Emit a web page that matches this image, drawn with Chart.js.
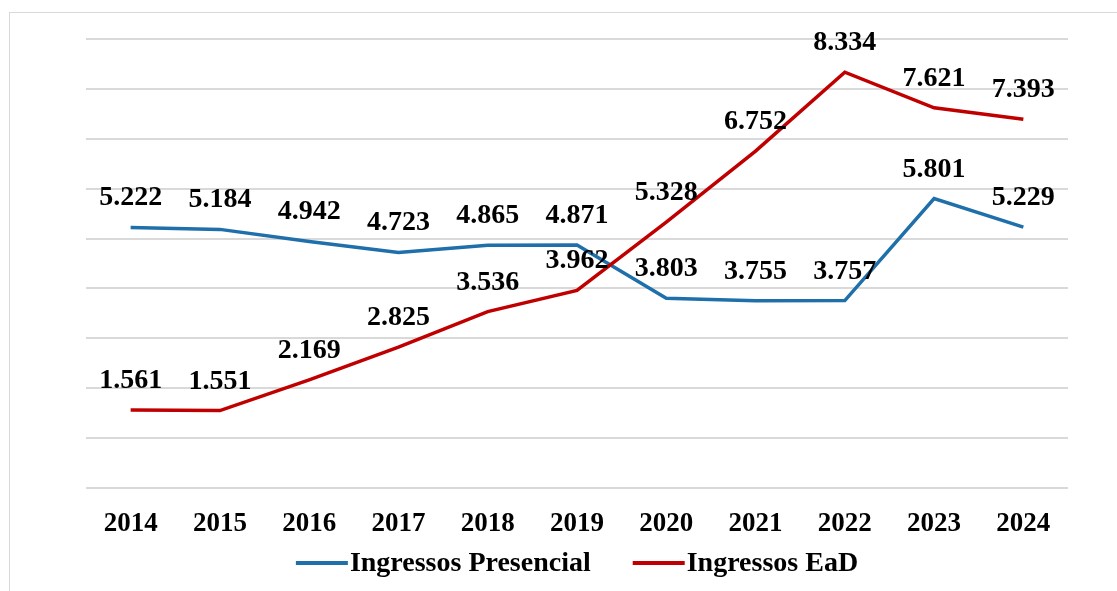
<!DOCTYPE html>
<html>
<head>
<meta charset="utf-8">
<script src="https://cdn.jsdelivr.net/npm/chart.js@4.4.1/dist/chart.umd.min.js"></script>
<style>
  body { margin: 0; background: #fff; }
  #wrap { position: relative; width: 1117px; height: 591px; overflow: hidden; }
  #frame { position: absolute; left: 9px; top: 12px; width: 1200px; height: 700px; border: 1.5px solid #d9d9d9; }
  #chart { position: absolute; left: 0; top: 0; }
</style>
</head>
<body>
<div id="wrap">
  <div id="frame"></div>
  <canvas id="chart" width="1117" height="591"></canvas>
</div>
<script>
// anos
const years = ['2014', '2015', '2016', '2017', '2018', '2019', '2020', '2021', '2022', '2023', '2024']
// ingressos (mostrado como 5.222 etc)
const presencial = [5222, 5184, 4942, 4723, 4865, 4871, 3803, 3755, 3757, 5801, 5229]
const ead = [1561, 1551, 2169, 2825, 3536, 3962, 5328, 6752, 8334, 7621, 7393]

const blue = '#1f6fab'
const red = '#c00000'
const FONT = "'Liberation Serif', 'Times New Roman', serif"

Chart.defaults.font.family = FONT
Chart.defaults.font.weight = 'bold'
Chart.defaults.color = '#000'

function fmt (v) {
    return v.toString().replace(/\B(?=(\d{3})+(?!\d))/g, '.')
}

// draws the number above every point
const valueLabels = {
    id: 'valueLabels',
    afterDatasetsDraw (chart) {
        const ctx = chart.ctx
        ctx.save()
        ctx.font = 'bold 28px ' + FONT
        ctx.fillStyle = '#000'
        ctx.textAlign = 'center'
        ctx.textBaseline = 'alphabetic'
        chart.data.datasets.forEach((ds, i) => {
            chart.getDatasetMeta(i).data.forEach((pt, j) => {
                ctx.fillText(fmt(ds.data[j]), pt.x, pt.y - 22)
            })
        })
        ctx.restore()
    }
}

// legend like the excel one: short line + text, centered under the axis
const lineLegend = {
    id: 'lineLegend',
    afterDraw (chart) {
        const ctx = chart.ctx
        const items = chart.data.datasets.slice().reverse()
        const lineW = 52, gap = 2, itemGap = 42
        ctx.save()
        ctx.font = 'bold 28px ' + FONT
        ctx.textBaseline = 'middle'
        ctx.textAlign = 'left'
        let total = 0
        items.forEach((ds, i) => {
            total += lineW + gap + ctx.measureText(ds.label).width
            if (i < items.length - 1) total += itemGap
        })
        let x = (chart.chartArea.left + chart.chartArea.right) / 2 - total / 2
        const y = chart.chartArea.bottom + 75
        items.forEach(ds => {
            ctx.strokeStyle = ds.borderColor
            ctx.lineWidth = 4
            ctx.beginPath()
            ctx.moveTo(x, y)
            ctx.lineTo(x + lineW, y)
            ctx.stroke()
            x += lineW + gap
            ctx.fillStyle = '#000'
            ctx.fillText(ds.label, x, y + 1)
            x += ctx.measureText(ds.label).width + itemGap
        })
        ctx.restore()
    }
}

new Chart(document.getElementById('chart'), {
    type: 'line',
    data: {
        labels: years,
        datasets: [
            {
                label: 'Ingressos EaD',
                data: ead,
                borderColor: red,
                backgroundColor: red,
                borderWidth: 3.5,
                pointRadius: 0,
                tension: 0
            },
            {
                label: 'Ingressos Presencial',
                data: presencial,
                borderColor: blue,
                backgroundColor: blue,
                borderWidth: 3.5,
                pointRadius: 0,
                tension: 0
            }
        ]
    },
    options: {
        responsive: false,
        animation: false,
        layout: { padding: { left: 86, right: 49, top: 39, bottom: 30 } },
        plugins: {
            tooltip: { enabled: false },
            legend: { display: false }
        },
        scales: {
            x: {
                offset: true,
                grid: { display: false, drawTicks: false },
                border: { display: false },
                ticks: { padding: 23, font: { size: 27, weight: 'bold', lineHeight: 1 }, color: '#000' }
            },
            y: {
                min: 0,
                max: 9000,
                ticks: { stepSize: 1000, display: false },
                grid: { color: '#d9d9d9', lineWidth: 2, drawTicks: false },
                border: { display: false }
            }
        }
    },
    plugins: [valueLabels, lineLegend]
})
</script>
</body>
</html>
